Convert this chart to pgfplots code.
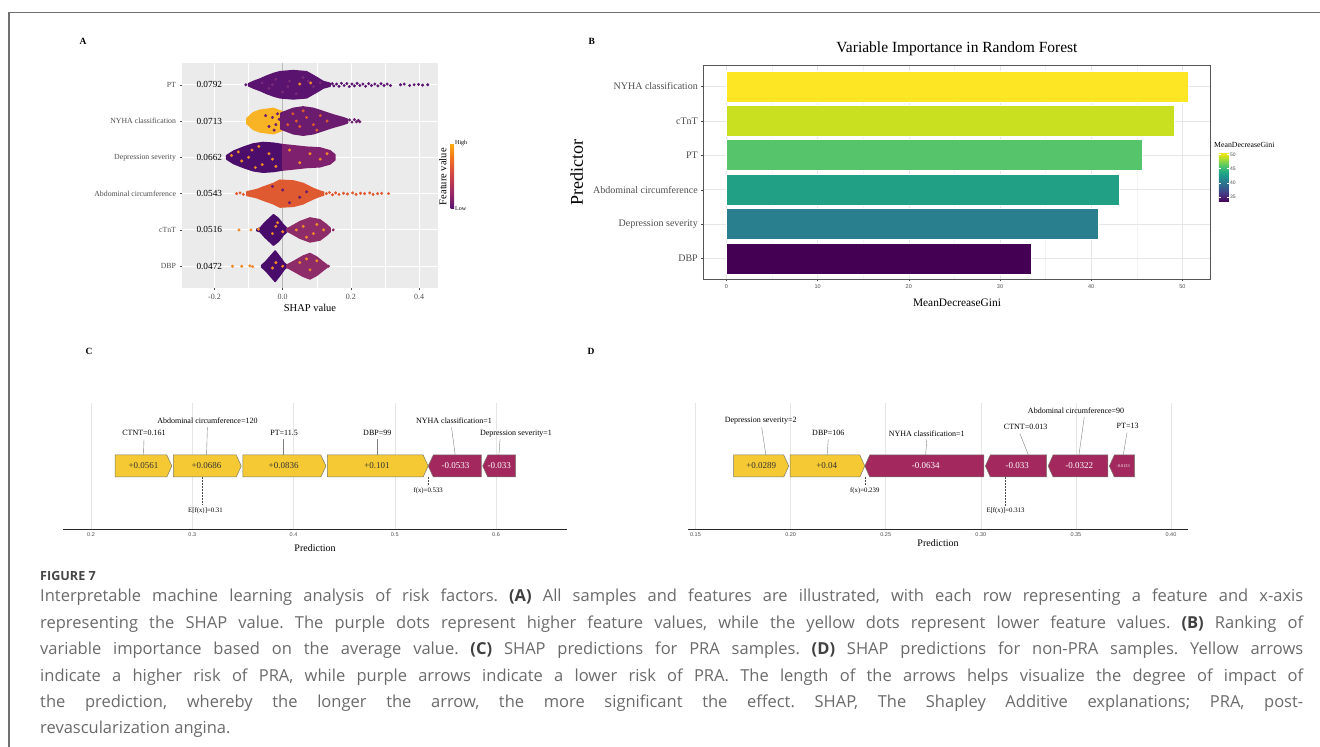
\documentclass[border=0pt]{standalone}
\usepackage{fontspec}
\setmainfont{Liberation Serif}
\newfontfamily\capfont{Open Sans}
\newfontfamily\tickfont{Liberation Sans}
\usepackage{pgfplots}
\pgfplotsset{compat=1.18}
\definecolor{ggbg}{HTML}{EBEBEB}
\definecolor{tgray}{HTML}{4D4D4D}
\definecolor{frameL}{HTML}{707070}
\definecolor{gridB}{HTML}{E6E6E6}
\definecolor{gridBm}{HTML}{F2F2F2}
\definecolor{frameB}{HTML}{555555}
\definecolor{capgray}{HTML}{6A6A6A}
\definecolor{pPT}{HTML}{5A1470}
\definecolor{pPTl}{HTML}{7A2A78}
\definecolor{yNY}{HTML}{F8B425}
\definecolor{pNY}{HTML}{6B1C6E}
\definecolor{dDE}{HTML}{4C0D6B}
\definecolor{mDE}{HTML}{7E206D}
\definecolor{oAB}{HTML}{DF5A30}
\definecolor{orng}{HTML}{F08A28}
\definecolor{dCT}{HTML}{4A0C6B}
\definecolor{mCT}{HTML}{8E2C69}
\definecolor{v6}{HTML}{FDE725}
\definecolor{v5}{HTML}{C8E020}
\definecolor{v4}{HTML}{55C46A}
\definecolor{v3}{HTML}{22A085}
\definecolor{v2}{HTML}{2A7F8E}
\definecolor{v1}{HTML}{440154}
\definecolor{fy}{HTML}{F5C934}
\definecolor{fp}{HTML}{A2285E}
\definecolor{outl}{HTML}{7A7A6A}
\pgfplotsset{colormap={shapinf}{rgb255=(86,16,110) rgb255=(147,38,103) rgb255=(188,55,84) rgb255=(221,81,58) rgb255=(243,120,25) rgb255=(250,175,20)}}
\begin{document}
\begin{tikzpicture}[x=1pt,y=1pt]
\path[use as bounding box] (0,0) rectangle (1320,747);
\draw[frameL, line width=1.2pt] (9,0) -- (9,734.7) -- (1320,734.7);
% panel letters
\node[font=\bfseries\fontsize{9.5}{10}\selectfont] at (83,705.3) {A};
\node[font=\bfseries\fontsize{9.5}{10}\selectfont] at (591.7,705.3) {B};
\node[font=\bfseries\fontsize{9.5}{10}\selectfont] at (89,396) {C};
\node[font=\bfseries\fontsize{9.5}{10}\selectfont] at (591,396) {D};

% ---------------- Panel A ----------------
\begin{axis}[at={(182pt,459pt)}, anchor=south west, scale only axis, width=256pt, height=225pt,
 xmin=-0.295, xmax=0.455, ymin=0.4, ymax=6.6,
 axis background/.style={fill=ggbg}, axis line style={draw=none},
 xtick={-0.2,0,0.2,0.4}, xticklabels={-0.2,0.0,0.2,0.4}, minor xtick={-0.1,0.1,0.3},
 ytick={1,2,3,4,5,6}, yticklabels={DBP,cTnT,Abdominal circumference,Depression severity,NYHA classification,PT},
 xmajorgrids, ymajorgrids, xminorgrids,
 major grid style={white, line width=0.9pt}, minor grid style={white, line width=0.45pt},
 tick pos=left, tick align=outside, major tick length=2.5pt, minor tick length=0pt, tick style={tgray, line width=0.5pt},
 xticklabel style={font=\fontsize{8}{8}\selectfont, text=tgray},
 yticklabel style={font=\fontsize{7.8}{8}\selectfont, text=tgray},
 colormap name=shapinf, colorbar, point meta min=0, point meta max=1,
 colorbar style={at={(parent axis.north east)}, anchor=north west, xshift=4pt, yshift=-80.3pt,
   width=3.5pt, height=65pt, scale only axis, axis background/.style={}, xmajorgrids=false, ymajorgrids=false, xminorgrids=false,
   xtick=\empty, ytick={0,1}, yticklabels={Low,High}, yticklabel pos=right,
   yticklabel style={font=\fontsize{6}{6}\selectfont, inner sep=1pt}, major tick length=0pt, axis line style={draw=none}}]
\addplot[gray!55, line width=1.5pt] coordinates {(0,0.4) (0,6.6)};
% PT
\addplot[fill=pPT, draw=pPT, line width=1.5pt, line join=round] coordinates {(-0.100,6.03) (-0.086,6.09) (-0.066,6.16) (-0.047,6.24) (-0.027,6.31) (-0.008,6.36) (0.031,6.39) (0.070,6.36) (0.100,6.20) (0.119,6.09) (0.139,6.04) (0.139,5.96) (0.119,5.91) (0.100,5.80) (0.070,5.64) (0.031,5.61) (-0.008,5.64) (-0.027,5.69) (-0.047,5.76) (-0.066,5.84) (-0.086,5.91) (-0.100,5.97)} -- cycle;
\addplot[only marks, mark=*, mark size=1.2pt, color=pPTl] coordinates {(-0.06,6.05) (-0.04,5.9) (-0.02,6.15) (0.0,5.8) (0.02,6.1) (0.04,5.75) (0.06,6.2) (0.09,5.95) (0.11,6.05) (-0.03,6.0) (0.015,5.95) (0.075,6.1)};
\addplot[only marks, mark=*, mark size=1.3pt, color=pPT] coordinates {(-0.108,6.0) (0.145,6.03) (0.150,5.97) (0.158,6.02) (0.165,5.96) (0.172,6.04) (0.180,5.98) (0.188,6.03) (0.195,5.95) (0.203,6.02) (0.210,5.97) (0.218,6.04) (0.226,5.98) (0.235,6.02) (0.243,5.96) (0.252,6.03) (0.260,5.98) (0.270,6.02) (0.279,5.97) (0.288,6.03) (0.297,5.98) (0.306,6.02) (0.316,5.98) (0.345,6.0) (0.356,6.02) (0.372,5.98) (0.385,6.0) (0.398,6.01) (0.410,5.99) (0.425,6.0)};
\addplot[only marks, mark=*, mark size=1.3pt, color=orng] coordinates {(0.050,6.02) (0.082,6.05)};
% NYHA
\addplot[fill=yNY, draw=yNY, line width=1.5pt, line join=round] coordinates {(-0.105,5.07) (-0.086,5.23) (-0.066,5.30) (-0.027,5.35) (0.0,5.25) (0.0,4.75) (-0.027,4.65) (-0.066,4.70) (-0.086,4.77) (-0.105,4.93)} -- cycle;
\addplot[fill=pNY, draw=pNY, line width=1.5pt, line join=round] coordinates {(-0.005,5.22) (0.031,5.35) (0.060,5.39) (0.090,5.35) (0.119,5.26) (0.148,5.17) (0.178,5.09) (0.190,5.05) (0.190,4.95) (0.178,4.91) (0.148,4.83) (0.119,4.74) (0.090,4.65) (0.060,4.61) (0.031,4.65) (-0.005,4.78)} -- cycle;
\addplot[only marks, mark=*, mark size=1.3pt, color=pNY] coordinates {(0.196,5.03) (0.203,4.97) (0.210,5.04) (0.216,4.98) (0.222,5.02) (0.226,4.98) (-0.030,5.10) (-0.020,4.90) (-0.010,5.05) (-0.040,4.85) (-0.015,5.20) (-0.050,5.15) (-0.025,4.75)};
\addplot[only marks, mark=*, mark size=1.3pt, color=oAB] coordinates {(0.030,5.20) (0.050,4.85) (0.070,5.10) (0.090,4.90) (0.110,5.15) (0.040,5.00) (0.130,5.00) (0.100,4.75) (0.060,5.28) (0.015,4.90)};
% Depression
\addplot[fill=dDE, draw=dDE, line width=1.5pt, line join=round] coordinates {(-0.164,4.05) (-0.144,4.17) (-0.115,4.28) (-0.086,4.37) (-0.057,4.41) (-0.027,4.39) (0.0,4.35) (0.0,3.65) (-0.027,3.61) (-0.057,3.59) (-0.086,3.63) (-0.115,3.72) (-0.144,3.83) (-0.164,3.95)} -- cycle;
\addplot[fill=mDE, draw=mDE, line width=1.5pt, line join=round] coordinates {(0.0,4.35) (0.031,4.32) (0.070,4.28) (0.109,4.26) (0.139,4.18) (0.153,4.07) (0.153,3.93) (0.139,3.82) (0.109,3.74) (0.070,3.72) (0.031,3.68) (0.0,3.65)} -- cycle;
\addplot[only marks, mark=*, mark size=1.3pt, color=orng] coordinates {(-0.150,4.05) (-0.120,3.90) (-0.090,4.20) (-0.060,3.80) (-0.040,4.10) (-0.100,4.00) (-0.070,4.30) (-0.020,3.75) (0.020,4.20) (0.050,3.85) (0.080,4.10) (0.110,3.95) (0.130,4.10) (-0.130,4.15) (-0.030,3.95) (-0.080,3.72)};
% Abdominal
\addplot[fill=oAB, draw=oAB, line width=1.5pt, line join=round] coordinates {(-0.105,3.05) (-0.076,3.11) (-0.057,3.18) (-0.027,3.28) (-0.008,3.37) (0.031,3.35) (0.060,3.28) (0.090,3.14) (0.109,3.07) (0.120,3.04) (0.120,2.96) (0.109,2.93) (0.090,2.86) (0.060,2.72) (0.031,2.65) (-0.008,2.63) (-0.027,2.72) (-0.057,2.82) (-0.076,2.89) (-0.105,2.95)} -- cycle;
\addplot[only marks, mark=*, mark size=1.3pt, color=oAB] coordinates {(-0.135,3.0) (-0.125,3.02) (-0.115,2.98) (0.128,3.0) (0.137,3.03) (0.146,2.97) (0.155,3.02) (0.165,2.98) (0.178,3.01) (0.190,2.99) (0.205,3.02) (0.215,2.98) (0.228,3.01) (0.240,3.0) (0.255,3.02) (0.265,2.98) (0.278,3.0) (0.290,3.01) (0.310,3.0)};
\addplot[only marks, mark=*, mark size=1.3pt, color=pNY] coordinates {(0.0,3.1) (0.05,2.9) (0.07,3.05) (-0.03,3.2) (0.02,2.75)};
% cTnT
\addplot[fill=dCT, draw=dCT, line width=1.5pt, line join=round] coordinates {(-0.076,2.02) (-0.066,2.05) (-0.052,2.20) (-0.027,2.42) (-0.013,2.32) (0.002,2.14) (0.012,2.05) (0.012,1.95) (0.002,1.86) (-0.013,1.68) (-0.027,1.58) (-0.052,1.80) (-0.066,1.95) (-0.076,1.98)} -- cycle;
\addplot[fill=mCT, draw=mCT, line width=1.5pt, line join=round] coordinates {(0.012,2.03) (0.021,2.07) (0.051,2.23) (0.080,2.33) (0.109,2.28) (0.129,2.14) (0.139,2.05) (0.139,1.95) (0.129,1.86) (0.109,1.72) (0.080,1.67) (0.051,1.77) (0.021,1.93) (0.012,1.97)} -- cycle;
\addplot[only marks, mark=*, mark size=1.3pt, color=mCT] coordinates {(0.148,2.0)};
\addplot[only marks, mark=*, mark size=1.3pt, color=orng] coordinates {(-0.128,2.0) (-0.093,2.0) (-0.071,2.02) (-0.020,2.10) (-0.030,1.90) (-0.015,2.20) (0.0,1.95) (0.060,2.10) (0.090,1.90) (0.100,2.15) (0.070,1.80) (0.040,2.0) (0.120,2.0)};
% DBP
\addplot[fill=dCT, draw=dCT, line width=1.5pt, line join=round] coordinates {(-0.062,1.02) (-0.050,1.12) (-0.022,1.42) (-0.008,1.25) (0.005,1.08) (0.012,1.03) (0.012,0.97) (0.005,0.92) (-0.008,0.75) (-0.022,0.58) (-0.050,0.88) (-0.062,0.98)} -- cycle;
\addplot[fill=mCT, draw=mCT, line width=1.5pt, line join=round] coordinates {(0.012,1.03) (0.030,1.12) (0.060,1.28) (0.080,1.35) (0.100,1.25) (0.120,1.10) (0.130,1.03) (0.130,0.97) (0.120,0.90) (0.100,0.75) (0.080,0.65) (0.060,0.72) (0.030,0.88) (0.012,0.97)} -- cycle;
\addplot[only marks, mark=*, mark size=1.3pt, color=mCT] coordinates {(0.134,1.0)};
\addplot[only marks, mark=*, mark size=1.3pt, color=orng] coordinates {(-0.147,1.0) (-0.120,1.0) (-0.096,1.01) (-0.088,0.99) (-0.020,1.10) (-0.030,0.95) (0.0,1.0) (0.050,1.10) (0.080,0.90) (0.100,1.15) (0.070,1.20)};
% importance numbers
\node[font=\fontsize{9.3}{10}\selectfont] at (axis cs:-0.215,6) {0.0792};
\node[font=\fontsize{9.3}{10}\selectfont] at (axis cs:-0.215,5) {0.0713};
\node[font=\fontsize{9.3}{10}\selectfont] at (axis cs:-0.215,4) {0.0662};
\node[font=\fontsize{9.3}{10}\selectfont] at (axis cs:-0.215,3) {0.0543};
\node[font=\fontsize{9.3}{10}\selectfont] at (axis cs:-0.215,2) {0.0516};
\node[font=\fontsize{9.3}{10}\selectfont] at (axis cs:-0.215,1) {0.0472};
\end{axis}
\node[font=\fontsize{10.5}{11}\selectfont] at (310,439.3) {SHAP value};
\node[font=\fontsize{10.5}{11}\selectfont, rotate=90] at (442.7,570.3) {Feature value};

% ---------------- Panel B ----------------
\begin{axis}[at={(703.3pt,467.7pt)}, anchor=south west, scale only axis, width=507.4pt, height=213.6pt,
 xmin=-2.53, xmax=53.1, ymin=0.4, ymax=6.6,
 xtick={0,10,20,30,40,50}, xticklabels={0,10,20,30,40,50}, minor xtick={5,15,25,35,45},
 ytick={1,2,3,4,5,6}, yticklabels={DBP,Depression severity,Abdominal circumference,PT,cTnT,NYHA classification},
 xmajorgrids, ymajorgrids, xminorgrids,
 major grid style={gridB, line width=0.5pt}, minor grid style={gridBm, line width=0.3pt},
 axis line style={draw=frameB, line width=0.8pt},
 tick pos=left, tick align=outside, major tick length=2pt, minor tick length=0pt, tick style={tgray, line width=0.4pt},
 xticklabel style={font=\tickfont\fontsize{5.5}{6}\selectfont, text=tgray},
 yticklabel style={font=\fontsize{10}{10}\selectfont, text=tgray},
 colormap/viridis, colorbar, point meta min=33.4, point meta max=50.6,
 colorbar style={at={(parent axis.north east)}, anchor=north west, xshift=-0.4pt, yshift=-87pt,
   width=10pt, height=49pt, scale only axis, xmajorgrids=false, ymajorgrids=false, xminorgrids=false,
   xtick=\empty, ytick={35,40,45,50}, yticklabels={35,40,45,50}, yticklabel pos=right,
   yticklabel style={font=\tickfont\fontsize{5}{5}\selectfont, text=tgray, inner sep=1pt},
   major tick length=2pt, tick align=inside, tick style={white, line width=0.5pt}, axis line style={draw=none}}]
\addplot[xbar, bar shift=0pt, bar width=31pt, fill=v6, draw=white, line width=0.6pt] coordinates {(50.6,6)};
\addplot[xbar, bar shift=0pt, bar width=31pt, fill=v5, draw=white, line width=0.6pt] coordinates {(49.06,5)};
\addplot[xbar, bar shift=0pt, bar width=31pt, fill=v4, draw=white, line width=0.6pt] coordinates {(45.6,4)};
\addplot[xbar, bar shift=0pt, bar width=31pt, fill=v3, draw=white, line width=0.6pt] coordinates {(43.1,3)};
\addplot[xbar, bar shift=0pt, bar width=31pt, fill=v2, draw=white, line width=0.6pt] coordinates {(40.8,2)};
\addplot[xbar, bar shift=0pt, bar width=31pt, fill=v1, draw=white, line width=0.6pt] coordinates {(33.4,1)};
\end{axis}
\node[font=\fontsize{15.5}{16}\selectfont] at (957,698) {Variable Importance in Random Forest};
\node[font=\fontsize{18}{18}\selectfont, rotate=90] at (576.7,574.5) {Predictor};
\node[font=\fontsize{11.4}{12}\selectfont] at (957,444.3) {MeanDecreaseGini};
\node[font=\fontsize{7.8}{8}\selectfont, anchor=west, inner sep=0] at (1214,602) {MeanDecreaseGini};

% ---------------- Panel C ----------------
\begin{axis}[at={(63pt,217.7pt)}, anchor=south west, scale only axis, width=504pt, height=126.3pt,
 xmin=0.1723, xmax=0.6701, ymin=0, ymax=126.3, axis y line=none, axis x line*=bottom,
 x axis line style={-, black!85, line width=1pt},
 xtick={0.2,0.3,0.4,0.5,0.6}, xticklabels={0.2,0.3,0.4,0.5,0.6}, xmajorgrids,
 major grid style={gridB, line width=0.5pt}, major tick length=0pt,
 xticklabel style={font=\tickfont\fontsize{5.5}{6}\selectfont, text=tgray}, clip=false]
\addplot[fill=fy, draw=outl, line width=0.5pt] coordinates {(0.2237,52.3) (0.2748,52.3) (0.2798,63.3) (0.2748,74.3) (0.2237,74.3)} -- cycle;
\addplot[fill=fy, draw=outl, line width=0.5pt] coordinates {(0.2813,52.3) (0.3434,52.3) (0.3484,63.3) (0.3434,74.3) (0.2813,74.3)} -- cycle;
\addplot[fill=fy, draw=outl, line width=0.5pt] coordinates {(0.3499,52.3) (0.4270,52.3) (0.4320,63.3) (0.4270,74.3) (0.3499,74.3)} -- cycle;
\addplot[fill=fy, draw=outl, line width=0.5pt] coordinates {(0.4335,52.3) (0.5280,52.3) (0.5330,63.3) (0.5280,74.3) (0.4335,74.3)} -- cycle;
\addplot[fill=fp, draw=outl, line width=0.5pt] coordinates {(0.5330,63.3) (0.5380,74.3) (0.5855,74.3) (0.5855,52.3) (0.5380,52.3)} -- cycle;
\addplot[fill=fp, draw=outl, line width=0.5pt] coordinates {(0.5868,63.3) (0.5918,74.3) (0.6193,74.3) (0.6193,52.3) (0.5918,52.3)} -- cycle;
\node[font=\fontsize{9}{9}\selectfont, text=black!80] at (axis cs:0.2518,63.3) {+0.0561};
\node[font=\fontsize{9}{9}\selectfont, text=black!80] at (axis cs:0.3141,63.3) {+0.0686};
\node[font=\fontsize{9}{9}\selectfont, text=black!80] at (axis cs:0.3902,63.3) {+0.0836};
\node[font=\fontsize{9}{9}\selectfont, text=black!80] at (axis cs:0.4825,63.3) {+0.101};
\node[font=\fontsize{9}{9}\selectfont, text=white] at (axis cs:0.5600,63.3) {-0.0533};
\node[font=\fontsize{9}{9}\selectfont, text=white] at (axis cs:0.6033,63.3) {-0.033};
\addplot[gray, line width=0.4pt] coordinates {(0.2523,90) (0.2518,74.3)};
\addplot[gray, line width=0.4pt] coordinates {(0.3149,102) (0.3141,74.3)};
\addplot[gray, line width=0.4pt] coordinates {(0.3902,90) (0.3902,74.3)};
\addplot[gray, line width=0.4pt] coordinates {(0.4825,90) (0.4825,74.3)};
\addplot[gray, line width=0.4pt] coordinates {(0.5560,102) (0.5597,74.3)};
\addplot[gray, line width=0.4pt] coordinates {(0.6040,90) (0.6028,74.3)};
\node[font=\fontsize{8}{8}\selectfont] at (axis cs:0.2523,96) {CTNT=0.161};
\node[font=\fontsize{8}{8}\selectfont] at (axis cs:0.3149,108.3) {Abdominal circumference=120};
\node[font=\fontsize{8}{8}\selectfont] at (axis cs:0.3907,96) {PT=11.5};
\node[font=\fontsize{8}{8}\selectfont] at (axis cs:0.4827,96) {DBP=99};
\node[font=\fontsize{8}{8}\selectfont] at (axis cs:0.5585,108.3) {NYHA classification=1};
\node[font=\fontsize{8}{8}\selectfont] at (axis cs:0.6198,96) {Depression severity=1};
\addplot[densely dotted, black!70, line width=0.5pt] coordinates {(0.31,52.3) (0.31,24.3)};
\addplot[densely dotted, black!70, line width=0.5pt] coordinates {(0.533,52.3) (0.533,43.3)};
\node[font=\fontsize{6.8}{7}\selectfont] at (axis cs:0.313,18.6) {E[f(x)]=0.31};
\node[font=\fontsize{6.8}{7}\selectfont] at (axis cs:0.533,38.3) {f(x)=0.533};
\end{axis}
\node[font=\fontsize{10}{10}\selectfont] at (315,199) {Prediction};

% ---------------- Panel D ----------------
\begin{axis}[at={(688pt,217.7pt)}, anchor=south west, scale only axis, width=499.7pt, height=126.3pt,
 xmin=0.14606, xmax=0.40878, ymin=0, ymax=126.3, axis y line=none, axis x line*=bottom,
 x axis line style={-, black!85, line width=1pt},
 xtick={0.15,0.20,0.25,0.30,0.35,0.40}, xticklabels={0.15,0.20,0.25,0.30,0.35,0.40}, xmajorgrids,
 major grid style={gridB, line width=0.5pt}, major tick length=0pt,
 xticklabel style={font=\tickfont\fontsize{5.5}{6}\selectfont, text=tgray}, clip=false]
\addplot[fill=fy, draw=outl, line width=0.5pt] coordinates {(0.1701,52.3) (0.1964,52.3) (0.1990,63.3) (0.1964,74.3) (0.1701,74.3)} -- cycle;
\addplot[fill=fy, draw=outl, line width=0.5pt] coordinates {(0.1998,52.3) (0.2364,52.3) (0.2390,63.3) (0.2364,74.3) (0.1998,74.3)} -- cycle;
\addplot[fill=fp, draw=outl, line width=0.5pt] coordinates {(0.2390,63.3) (0.2416,74.3) (0.3016,74.3) (0.3016,52.3) (0.2416,52.3)} -- cycle;
\addplot[fill=fp, draw=outl, line width=0.5pt] coordinates {(0.3024,63.3) (0.3050,74.3) (0.3346,74.3) (0.3346,52.3) (0.3050,52.3)} -- cycle;
\addplot[fill=fp, draw=outl, line width=0.5pt] coordinates {(0.3354,63.3) (0.3380,74.3) (0.3668,74.3) (0.3668,52.3) (0.3380,52.3)} -- cycle;
\addplot[fill=fp, draw=outl, line width=0.5pt] coordinates {(0.3676,63.3) (0.3702,74.3) (0.3809,74.3) (0.3809,52.3) (0.3702,52.3)} -- cycle;
\node[font=\fontsize{9}{9}\selectfont, text=black!80] at (axis cs:0.1846,63.3) {+0.0289};
\node[font=\fontsize{9}{9}\selectfont, text=black!80] at (axis cs:0.2190,63.3) {+0.04};
\node[font=\fontsize{9}{9}\selectfont, text=white] at (axis cs:0.2710,63.3) {-0.0634};
\node[font=\fontsize{9}{9}\selectfont, text=white] at (axis cs:0.3192,63.3) {-0.033};
\node[font=\fontsize{9}{9}\selectfont, text=white] at (axis cs:0.3518,63.3) {-0.0322};
\node[font=\fontsize{4.3}{5}\selectfont, text=white] at (axis cs:0.3748,63.3) {-0.0133};
\addplot[gray, line width=0.4pt] coordinates {(0.1848,102) (0.1870,74.3)};
\addplot[gray, line width=0.4pt] coordinates {(0.2198,90) (0.2192,74.3)};
\addplot[gray, line width=0.4pt] coordinates {(0.2716,90) (0.2710,74.3)};
\addplot[gray, line width=0.4pt] coordinates {(0.3206,95.5) (0.3250,74.3)};
\addplot[gray, line width=0.4pt] coordinates {(0.3544,112.3) (0.3516,74.3)};
\addplot[gray, line width=0.4pt] coordinates {(0.3769,97) (0.3749,74.3)};
\node[font=\fontsize{8}{8}\selectfont] at (axis cs:0.1843,108.3) {Depression severity=2};
\node[font=\fontsize{8}{8}\selectfont] at (axis cs:0.2198,96) {DBP=106};
\node[font=\fontsize{8}{8}\selectfont] at (axis cs:0.2716,96) {NYHA classification=1};
\node[font=\fontsize{8}{8}\selectfont] at (axis cs:0.3236,102) {CTNT=0.013};
\node[font=\fontsize{8}{8}\selectfont] at (axis cs:0.3501,118.6) {Abdominal circumference=90};
\node[font=\fontsize{8}{8}\selectfont] at (axis cs:0.3772,103.3) {PT=13};
\addplot[densely dotted, black!70, line width=0.5pt] coordinates {(0.313,52.3) (0.313,23.3)};
\addplot[densely dotted, black!70, line width=0.5pt] coordinates {(0.239,52.3) (0.239,43.3)};
\node[font=\fontsize{6.8}{7}\selectfont] at (axis cs:0.313,18.6) {E[f(x)]=0.313};
\node[font=\fontsize{6.8}{7}\selectfont] at (axis cs:0.239,38.3) {f(x)=0.239};
\end{axis}
\node[font=\fontsize{10}{10}\selectfont] at (938,203.7) {Prediction};

% ---------------- Caption ----------------
\node[anchor=base west, inner sep=0, font=\capfont\bfseries\fontsize{12.6}{13}\selectfont, text=black!72] at (40,166) {FIGURE 7};
\begin{scope}[every node/.style={anchor=base west, inner sep=0, font=\capfont\fontsize{16.5}{25}\selectfont\frenchspacing, text=capgray}]
\node at (40,145) {\hbox to 1263pt{Interpretable machine learning analysis of risk factors. {\bfseries\color{black!75}(A)} All samples and features are illustrated, with each row representing a feature and x-axis}};
\node at (40,118.6) {\hbox to 1263pt{representing the SHAP value. The purple dots represent higher feature values, while the yellow dots represent lower feature values. {\bfseries\color{black!75}(B)} Ranking of}};
\node at (40,92.2) {\hbox to 1263pt{variable importance based on the average value. {\bfseries\color{black!75}(C)} SHAP predictions for PRA samples. {\bfseries\color{black!75}(D)} SHAP predictions for non-PRA samples. Yellow arrows}};
\node at (40,65.8) {\hbox to 1263pt{indicate a higher risk of PRA, while purple arrows indicate a lower risk of PRA. The length of the arrows helps visualize the degree of impact of}};
\node at (40,39.4) {\hbox to 1263pt{the prediction, whereby the longer the arrow, the more significant the effect. SHAP, The Shapley Additive explanations; PRA, post-}};
\node at (40,13) {revascularization angina.};
\end{scope}
\end{tikzpicture}
\end{document}
